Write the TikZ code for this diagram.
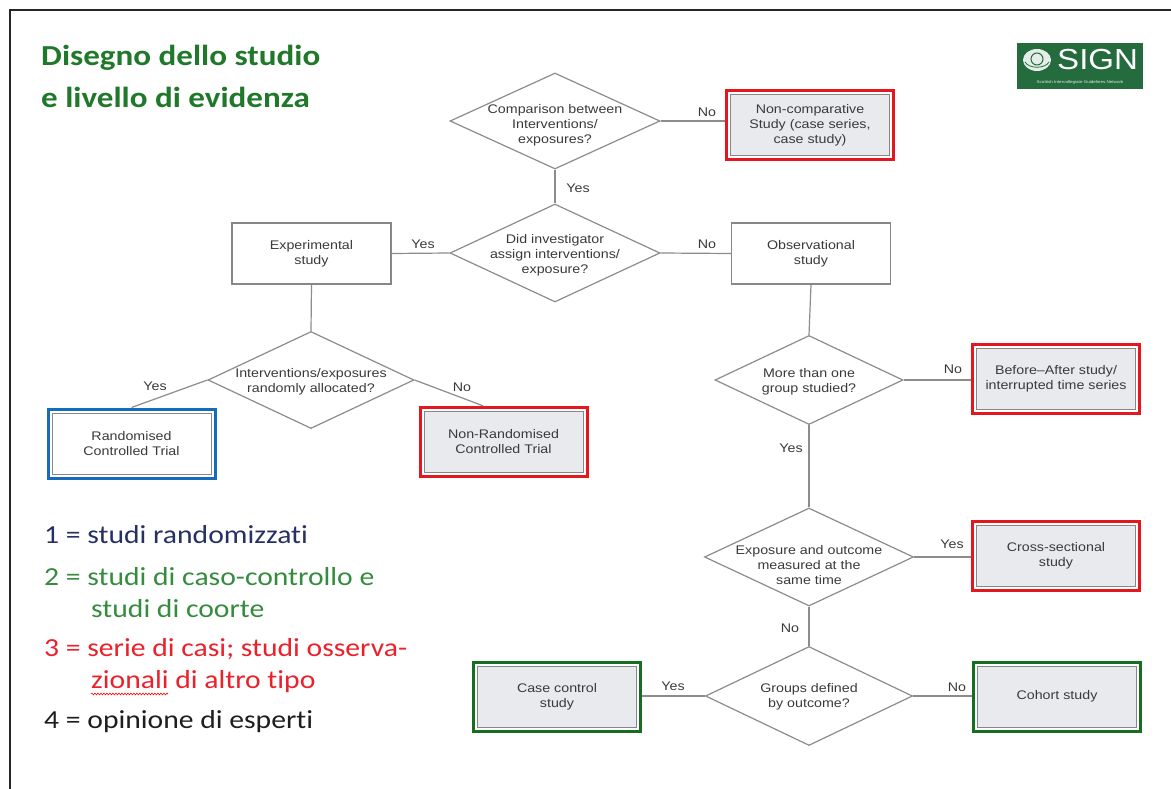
\documentclass[tikz,border=0pt]{standalone}
\usepackage{fontspec}
\usetikzlibrary{shapes.geometric,fit,calc,decorations.pathmorphing}
\newfontfamily\diafont[FakeStretch=1.14]{Liberation Sans}
\newfontfamily\calfont[FakeStretch=1.14, RawFeature=-liga]{Carlito}
\definecolor{linegray}{RGB}{140,140,140}
\definecolor{boxgray}{RGB}{135,135,135}
\definecolor{boxfill}{RGB}{232,234,238}
\definecolor{txtgray}{RGB}{58,58,62}
\definecolor{redc}{RGB}{228,22,30}
\definecolor{bluec}{RGB}{22,108,186}
\definecolor{greenc}{RGB}{22,110,32}
\definecolor{titlegreen}{RGB}{32,120,42}
\definecolor{leg1}{RGB}{38,48,100}
\definecolor{leg2}{RGB}{52,140,62}
\definecolor{leg3}{RGB}{236,32,42}
\definecolor{leg4}{RGB}{30,30,30}
\definecolor{signgreen}{RGB}{36,108,62}
\begin{document}
\begin{tikzpicture}[x=1pt,y=-1pt,
  dfont/.style={font=\diafont\fontsize{12.5}{15}\selectfont, text=txtgray},
  dia/.style={diamond, draw=linegray, line width=1.2, inner sep=0, fill=white},
  dtxt/.style={dfont, align=center, inner sep=0},
  lbl/.style={dfont, inner sep=0},
  plainbox/.style={dfont, draw=boxgray, line width=1.2, fill=white, minimum width=159, minimum height=61, inner sep=0, align=center},
  inbox/.style={dfont, draw=boxgray, line width=1, fill=boxfill, minimum width=159, minimum height=61, inner sep=0, align=center},
  frm/.style={draw=#1, line width=3, inner sep=3.5},
  conn/.style={draw=linegray, line width=1.2},
  ttl/.style={font=\calfont\bfseries\fontsize{29}{35}\selectfont, text=titlegreen, anchor=west, inner sep=0},
  leg/.style={font=\calfont\fontsize{26}{31}\selectfont, anchor=west, inner sep=0}
]
\useasboundingbox (0,0) rectangle (1171,789);
\fill[white] (0,0) rectangle (1171,789);
\draw[line width=1.5, black!85] (10,789) -- (10,10) -- (1171,10);

% title
\node[ttl] (t1) at (41,58) {Disegno dello studio};
\node[ttl] (t2) at (41,97) {e livello di evidenza};

% SIGN logo
\fill[signgreen] (1017,43) rectangle (1143,89);
\fill[white!88!signgreen] (1037,60) ellipse (14 and 11);
\draw[signgreen, line width=1] (1037,59) circle (6);
\draw[signgreen, line width=0.8] (1025,62) .. controls (1029,69) and (1045,69) .. (1049,62);
\node[font=\diafont\fontsize{29}{29}\selectfont, text=white, anchor=west, inner sep=0] (signt) at (1057,60) {SIGN};
\node[font=\diafont\fontsize{4}{4}\selectfont, text=white!85!signgreen, inner sep=0] (signs) at (1080,82) {Scottish Intercollegiate Guidelines Network};

% diamonds
\node[dia, minimum width=210, minimum height=96] (d1) at (555,121) {};
\node[dtxt] (d1t) at (555,125) {Comparison between\\Interventions/\\exposures?};
\node[dia, minimum width=210, minimum height=98] (d2) at (555,253) {};
\node[dtxt] (d2t) at (555,255) {Did investigator\\assign interventions/\\exposure?};
\node[dia, minimum width=206, minimum height=97] (d3) at (311,380) {};
\node[dtxt] (d3t) at (311,382) {Interventions/exposures\\randomly allocated?};
\node[dia, minimum width=188, minimum height=89] (d4) at (809,380) {};
\node[dtxt] (d4t) at (809,382) {More than one\\group studied?};
\node[dia, minimum width=209, minimum height=98] (d5) at (809,557) {};
\node[dtxt] (d5t) at (809,565) {Exposure and outcome\\measured at the\\same time};
\node[dia, minimum width=207, minimum height=99] (d6) at (809,696) {};
\node[dtxt] (d6t) at (809,697) {Groups defined\\by outcome?};

% plain boxes
\node[plainbox] (exp) at (311.5,253.5) {Experimental\\study};
\node[plainbox] (obs) at (811,253.5) {Observational\\study};

% framed boxes
\node[inbox] (nc) at (810,125) {Non-comparative\\Study (case series,\\case study)};
\node[frm=redc, fit=(nc)] (ncf) {};
\node[inbox] (nrct) at (503.5,442) {Non-Randomised\\Controlled Trial};
\node[frm=redc, fit=(nrct)] (nrctf) {};
\node[inbox, fill=white] (rct) at (131.5,443.5) {Randomised\\Controlled Trial};
\node[frm=bluec, fit=(rct)] (rctf) {};
\node[inbox] (ba) at (1056,379) {Before–After study/\\interrupted time series};
\node[frm=redc, fit=(ba)] (baf) {};
\node[inbox] (cs) at (1056,556) {Cross-sectional\\study};
\node[frm=redc, fit=(cs)] (csf) {};
\node[inbox] (coh) at (1057,696.5) {Cohort study};
\node[frm=greenc, fit=(coh)] (cohf) {};
\node[inbox] (cc) at (557,696.5) {Case control\\study};
\node[frm=greenc, fit=(cc)] (ccf) {};

% connectors
\draw[conn] (d1.east) -- (d1.east -| ncf.west);
\draw[conn] (d1.south) -- (d2.north);
\draw[conn] (d2.west) -- (exp.east);
\draw[conn] (d2.east) -- (obs.west);
\draw[conn] (exp.south) -- (d3.north);
\draw[conn] (d3.west) -- (rctf.north);
\draw[conn] (d3.east) -- ($(nrctf.north)+(-20,0)$);
\draw[conn] (obs.south) -- (d4.north);
\draw[conn] (d4.east) -- (d4.east -| baf.west);
\draw[conn] (d4.south) -- (d5.north);
\draw[conn] (d5.east) -- (d5.east -| csf.west);
\draw[conn] (d5.south) -- (d6.north);
\draw[conn] (d6.west) -- (d6.west -| ccf.east);
\draw[conn] (d6.east) -- (d6.east -| cohf.west);

% labels
\node[lbl] (l1) at (707,112) {No};
\node[lbl] (l2) at (578,188) {Yes};
\node[lbl] (l3) at (423,244) {Yes};
\node[lbl] (l4) at (707,244) {No};
\node[lbl] (l5) at (155,386) {Yes};
\node[lbl] (l6) at (462,387) {No};
\node[lbl] (l7) at (953,369) {No};
\node[lbl] (l8) at (791,448) {Yes};
\node[lbl] (l9) at (952,544) {Yes};
\node[lbl] (l10) at (790,628) {No};
\node[lbl] (l11) at (673,686) {Yes};
\node[lbl] (l12) at (957,687) {No};

% legend
\node[leg, text=leg1] (g1) at (44,535) {1 = studi randomizzati};
\node[leg, text=leg2] (g2) at (44,577) {2 = studi di caso-controllo e};
\node[leg, text=leg2] (g2b) at (91,609) {studi di coorte};
\node[leg, text=leg3] (g3) at (44,649) {3 = serie di casi; studi osserva-};
\node[leg, text=leg3] (g3b) at (91,682) {zionali di altro tipo};
\node[leg, text=leg4] (g4) at (44,722) {4 = opinione di esperti};
\draw[red, line width=0.6, decorate, decoration={snake, amplitude=0.9, segment length=3}] (91,694) -- (168,694);
\end{tikzpicture}
\end{document}
